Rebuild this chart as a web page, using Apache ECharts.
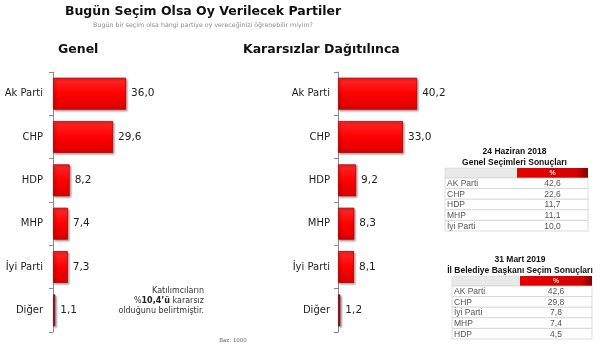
<!DOCTYPE html>
<html><head><meta charset="utf-8">
<script src="https://cdn.jsdelivr.net/npm/echarts@6/dist/echarts.min.js"></script>
<style>html,body{margin:0;padding:0;background:#fff}#c{width:600px;height:352px}</style>
</head><body><div id="c"></div>
<script>
const categories = ['Ak Parti','CHP','HDP','MHP','İyi Parti','Diğer'];
const genelValues = [36.0, 29.6, 8.2, 7.4, 7.3, 1.1];
const kararsizValues = [40.2, 33.0, 9.2, 8.3, 8.1, 1.2];
const table1Title = ['24 Haziran 2018','Genel Seçimleri Sonuçları'];
const table1Names = ['AK Parti','CHP','HDP','MHP','İyi Parti'];
const table1Values = ['42,6','22,6','11,7','11,1','10,0'];
const table2Title = ['31 Mart 2019','İl Belediye Başkanı Seçim Sonuçları'];
const table2Names = ['AK Parti','CHP','İyi Parti','MHP','HDP'];
const table2Values = ['42,6','29,8','7,8','7,4','4,5'];

const chart = echarts.init(document.getElementById('c'), null, {renderer:'canvas'});
const fmt = v => v.toFixed(1).replace('.', ',');
const FONT = 'DejaVu Sans';
const redGrad = new echarts.graphic.LinearGradient(0,0,0,1,[
  {offset:0,color:'#ff2a2a'},{offset:0.5,color:'#ff0000'},{offset:1,color:'#d80000'}]);
function barData(vals){
  return vals.map((v,i)=> i===vals.length-1
    ? {value:v,itemStyle:{color:'#a3142a',borderColor:'#7a0d1e'}}
    : v);
}
function makeSeries(idx, vals){
  return {
    type:'bar', xAxisIndex:idx, yAxisIndex:idx, data:barData(vals), barWidth:32,
    itemStyle:{color:redGrad,borderColor:'#b00000',borderWidth:0.8,
      shadowColor:'rgba(0,0,0,0.35)',shadowBlur:2,shadowOffsetX:1.5,shadowOffsetY:1.5},
    label:{show:true,position:'right',distance:5,formatter:p=>fmt(p.value),
      fontFamily:FONT,fontSize:10.5,color:'#222'},
    silent:true, animation:false
  };
}
function yAx(idx, margin){
  return {type:'category',gridIndex:idx,data:categories,inverse:true,
    axisLine:{lineStyle:{color:'#8a8a8a',width:1}},
    axisTick:{show:true,length:4,lineStyle:{color:'#8a8a8a'}},
    axisLabel:{margin:margin,fontFamily:FONT,fontSize:10,color:'#222'}};
}
function xAx(idx){
  return {type:'value',gridIndex:idx,min:0,max:100,show:false,splitLine:{show:false}};
}
function table(x0, x1, xRed, yTitle, yHeader, rowH, titles, names, vals){
  const els = [];
  const cx = (x0 + x1) / 2 - 2;
  titles.forEach((t,i)=>els.push({type:'text',left:cx,top:yTitle+i*10.5,
    style:{text:t,x:0,y:0,textAlign:'center',textVerticalAlign:'middle',
      font:'bold 8.5px "Liberation Sans"',fill:'#111'}}));
  els.push({type:'rect',shape:{x:x0,y:yHeader,width:xRed-x0-1,height:10},
    style:{fill:'#e9e9e9',stroke:'#d0d0d0',lineWidth:0.5}});
  els.push({type:'rect',shape:{x:xRed,y:yHeader,width:x1-xRed,height:10},
    style:{fill:new echarts.graphic.LinearGradient(0,0,1,0,[{offset:0,color:'#e60000'},{offset:0.85,color:'#d40000'},{offset:1,color:'#7a0000'}])}});
  els.push({type:'text',style:{text:'%',x:(xRed+x1)/2,y:yHeader+5,textAlign:'center',
    textVerticalAlign:'middle',font:'bold 7px "Liberation Sans"',fill:'#ffdede'}});
  const top = yHeader + 10;
  names.forEach((n,i)=>{
    const y = top + i*rowH;
    els.push({type:'rect',shape:{x:x0,y:y,width:x1-x0,height:rowH},
      style:{fill:'#ffffff',stroke:'#cfcfcf',lineWidth:0.7}});
    els.push({type:'text',style:{text:n,x:x0+2,y:y+rowH/2+0.5,textAlign:'left',
      textVerticalAlign:'middle',font:'8.5px "Liberation Sans"',fill:'#555'}});
    els.push({type:'text',style:{text:vals[i],x:(xRed+x1)/2,y:y+rowH/2+0.5,textAlign:'center',
      textVerticalAlign:'middle',font:'8.5px "Liberation Sans"',fill:'#555'}});
  });
  return els;
}
const graphics = [
  {type:'text',style:{text:'Bugün Seçim Olsa Oy Verilecek Partiler',x:203,y:12,textAlign:'center',
    textVerticalAlign:'middle',font:'bold 12.5px "DejaVu Sans"',fill:'#111'}},
  {type:'text',style:{text:'Bugün bir seçim olsa hangi partiye oy vereceğinizi öğrenebilir miyim?',
    x:203,y:25,textAlign:'center',textVerticalAlign:'middle',font:'6.3px "DejaVu Sans"',fill:'#8a8a8a'}},
  {type:'text',style:{text:'Genel',x:58,y:50,textAlign:'left',textVerticalAlign:'middle',
    font:'bold 12.5px "DejaVu Sans"',fill:'#111'}},
  {type:'text',style:{text:'Kararsızlar Dağıtılınca',x:243,y:50,textAlign:'left',textVerticalAlign:'middle',
    font:'bold 12.5px "DejaVu Sans"',fill:'#111'}},
  {type:'text',style:{text:'Katılımcıların',x:204,y:291,textAlign:'right',textVerticalAlign:'middle',
    font:'8px "DejaVu Sans"',fill:'#333'}},
  {type:'text',style:{rich:{b:{font:'bold 8px "DejaVu Sans"',fill:'#222'},n:{font:'8px "DejaVu Sans"',fill:'#333'}},
    text:'{n|%}{b|10,4’ü}{n| kararsız}',x:204,y:301,textAlign:'right',textVerticalAlign:'middle'}},
  {type:'text',style:{text:'olduğunu belirtmiştir.',x:204,y:311,textAlign:'right',textVerticalAlign:'middle',
    font:'8px "DejaVu Sans"',fill:'#333'}},
  {type:'text',style:{text:'Baz: 1000',x:233,y:341,textAlign:'center',textVerticalAlign:'middle',
    font:'5.5px "DejaVu Sans"',fill:'#666'}}
];
const t1 = table(445, 588, 517, 152, 168, 10.6, table1Title, table1Names, table1Values);
const t2 = table(452, 592, 520, 260, 276, 10.6, table2Title, table2Names, table2Values);
// convert titles in tables to x/y style
[t1,t2].forEach(arr=>arr.forEach(e=>{ if(e.left!==undefined){ e.style.x=e.left; e.style.y=e.top; delete e.left; delete e.top; } }));

chart.setOption({
  animation:false,
  grid:[{left:53,top:72,width:203,height:260},{left:338,top:72,width:197,height:260}],
  xAxis:[xAx(0),xAx(1)],
  yAxis:[yAx(0,10),yAx(1,8)],
  series:[makeSeries(0,genelValues),makeSeries(1,kararsizValues)],
  graphic:{elements:graphics.concat(t1,t2)}
});
</script></body></html>
